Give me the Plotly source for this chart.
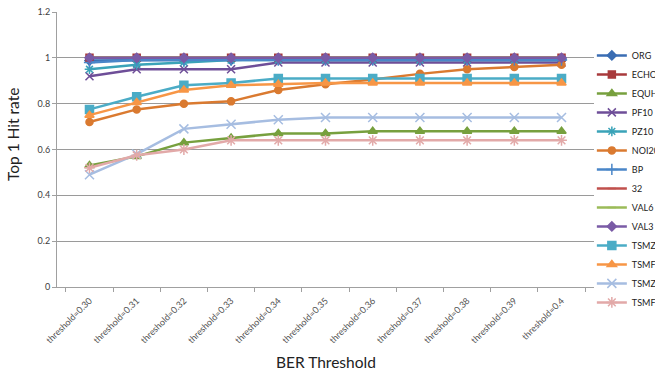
import plotly.graph_objects as go

categories = ["threshold=0.30", "threshold=0.31", "threshold=0.32", "threshold=0.33",
              "threshold=0.34", "threshold=0.35", "threshold=0.36", "threshold=0.37",
              "threshold=0.38", "threshold=0.39", "threshold=0.4"]

ORG   = [0.988, 0.99, 0.99, 0.99, 0.995, 0.995, 0.995, 0.995, 0.995, 0.995, 0.995]
ECHO  = [1.0, 1.0, 1.0, 1.0, 1.0, 1.0, 1.0, 1.0, 1.0, 1.0, 1.0]
EQUH  = [0.53, 0.57, 0.63, 0.65, 0.67, 0.67, 0.68, 0.68, 0.68, 0.68, 0.68]
PF10  = [0.92, 0.95, 0.95, 0.95, 0.98, 0.98, 0.98, 0.98, 0.98, 0.98, 0.98]
PZ10  = [0.95, 0.97, 0.98, 0.99, 0.99, 0.99, 0.99, 0.99, 0.99, 0.99, 0.99]
NOI20 = [0.72, 0.775, 0.80, 0.81, 0.86, 0.885, 0.905, 0.93, 0.95, 0.96, 0.97]
BP    = [0.98, 0.99, 0.99, 0.99, 0.99, 0.99, 0.99, 0.99, 0.99, 0.99, 0.99]
S32   = [1.0, 1.0, 1.0, 1.0, 1.0, 1.0, 1.0, 1.0, 1.0, 1.0, 1.0]
VAL6  = [1.0, 1.0, 1.0, 1.0, 1.0, 1.0, 1.0, 1.0, 1.0, 1.0, 1.0]
VAL3  = [1.0, 1.0, 1.0, 1.0, 1.0, 1.0, 1.0, 1.0, 1.0, 1.0, 1.0]
TSMZ2 = [0.775, 0.83, 0.88, 0.89, 0.91, 0.91, 0.91, 0.91, 0.91, 0.91, 0.91]
TSMF2 = [0.75, 0.805, 0.86, 0.88, 0.885, 0.89, 0.89, 0.89, 0.89, 0.89, 0.89]
TSMZ3 = [0.49, 0.58, 0.69, 0.71, 0.73, 0.74, 0.74, 0.74, 0.74, 0.74, 0.74]
TSMF5 = [0.52, 0.575, 0.60, 0.64, 0.64, 0.64, 0.64, 0.64, 0.64, 0.64, 0.64]

series = [
    ("ORG", ORG, "#3A6DB3", "diamond", 7),
    ("ECHO", ECHO, "#A83A3C", "square", 7),
    ("EQUH", EQUH, "#77A03E", "triangle-up", 8),
    ("PF10", PF10, "#6E4E98", "x-thin-open", 8),
    ("PZ10", PZ10, "#3AA3B8", "asterisk-open", 8),
    ("NOI20", NOI20, "#DA7A30", "circle", 7),
    ("BP", BP, "#4A86C8", "cross-thin-open", 8),
    ("32", S32, "#C0504D", "line-ew-open", 6),
    ("VAL6", VAL6, "#9BBB59", "line-ew-open", 6),
    ("VAL3", VAL3, "#7A5BA6", "diamond", 7),
    ("TSMZ2", TSMZ2, "#4BACC6", "square", 8),
    ("TSMF2", TSMF2, "#F79646", "triangle-up", 8),
    ("TSMZ3", TSMZ3, "#A6BDE1", "x-thin-open", 9),
    ("TSMF5", TSMF5, "#E2A9A8", "asterisk-open", 9),
]

fig = go.Figure()
for name, vals, color, sym, size in series:
    fig.add_trace(go.Scatter(
        x=categories, y=vals, name=name, mode="lines+markers",
        line=dict(color=color, width=2.5),
        marker=dict(symbol=sym, size=size, color=color,
                    line=dict(color=color, width=1.5)),
    ))

fig.update_layout(
    width=655, height=379,
    margin=dict(l=57, r=61, t=12, b=92, autoexpand=False),
    paper_bgcolor="white", plot_bgcolor="white",
    font=dict(family="Lato, Open Sans, sans-serif", color="#404040"),
    showlegend=True,
    legend=dict(x=0.996, xanchor="left", y=0.395, yanchor="middle",
                font=dict(size=9, color="#222222"),
                tracegroupgap=0, itemwidth=30,
                bgcolor="rgba(0,0,0,0)"),
    xaxis=dict(type="category", tickangle=-45, ticks="outside", ticklen=4,
               tickson="boundaries", tickcolor="#A0A0A0", ticklabelstandoff=4,
               showline=True, linecolor="#A0A0A0", linewidth=1,
               showgrid=False, tickfont=dict(size=9, color="#505050")),
    yaxis=dict(range=[0, 1.2], dtick=0.2, ticks="outside", ticklen=4,
               tickcolor="#A0A0A0", showline=True, linecolor="#A0A0A0",
               gridcolor="#9A9A9A", gridwidth=1, zeroline=False,
               tickfont=dict(size=9, color="#404040"),
               tickformat="~g"),
    annotations=[
        dict(text="BER Threshold", xref="paper", yref="paper", x=0.5, y=-0.273,
             xanchor="center", yanchor="middle", showarrow=False,
             font=dict(size=15.5, color="#222222")),
        dict(text="Top 1 Hit rate", xref="paper", yref="paper", x=-0.082, y=0.556,
             xanchor="center", yanchor="middle", showarrow=False, textangle=-90,
             font=dict(size=15.5, color="#222222")),
    ],
)

fig.write_html("out.html", config={"displayModeBar": False},
               post_script="document.body.style.margin='0px';document.body.style.overflow='hidden';")
